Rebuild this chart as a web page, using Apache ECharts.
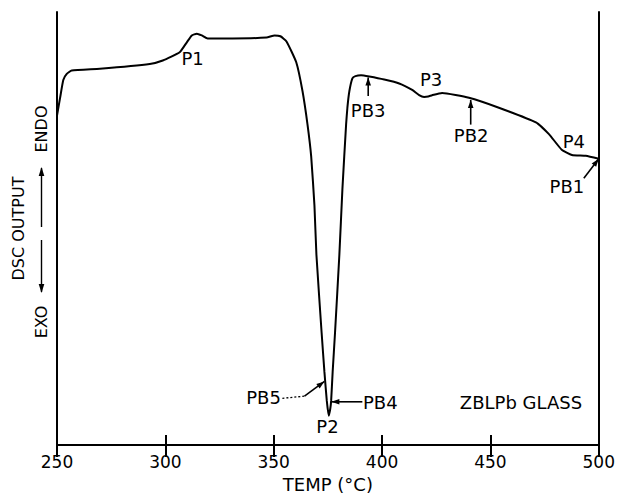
<!DOCTYPE html>
<html><head><meta charset="utf-8">
<script src="https://cdn.jsdelivr.net/npm/echarts/dist/echarts.min.js"></script>
<style>html,body{margin:0;padding:0;background:#fff}#c{width:618px;height:498px}</style>
</head><body><div id="c"></div>
<script>
// ---- data ----
const temps = [250, 251.4, 252.9, 254.5, 256.8, 269.8, 292.8, 298.8, 306.6, 309.9, 312.2, 314.5, 316.8, 319.5, 331.0, 346.7, 350.4, 353.1, 355.9, 360.4, 363.3, 365.6, 367.3, 368.8, 369.7, 372.1, 373.4, 374.5, 375.4, 376.1, 376.5, 377.2, 378.3, 380.3, 381.7, 383.4, 384.0, 384.9, 386.3, 387.7, 390.3, 394.1, 401.0, 407.9, 413.9, 417.1, 419.4, 421.3, 423.1, 427.7, 440.1, 453.9, 471.0, 477.0, 482.9, 487.6, 494.0, 500];
const dscOutput = [76.1, 80.1, 84.3, 85.7, 86.5, 86.9, 88.0, 88.8, 90.7, 93.0, 94.6, 95.0, 94.6, 93.9, 93.9, 94.1, 94.6, 94.4, 93.2, 88.4, 81.7, 74.0, 66.6, 55.3, 44.0, 26.0, 16.9, 10.2, 6.8, 8.4, 10.2, 16.9, 26.0, 44.0, 59.1, 74.0, 77.9, 81.7, 84.7, 85.2, 85.4, 85.1, 84.4, 83.5, 82.0, 80.8, 80.4, 80.5, 80.8, 81.3, 80.2, 77.9, 74.5, 71.8, 68.2, 67.0, 66.8, 66.1];
const xTickLabels = ['250', '300', '350', '400', '450', '500'];
const labelTexts = ['P1', 'P2', 'P3', 'P4', 'PB1', 'PB2', 'PB3', 'PB4', 'PB5', 'ZBLPb GLASS'];
const labelTemps = [312.6, 374.8, 422.6, 488.5, 485.3, 441.1, 393.6, 399.2, 345.3, 464.1];
const labelValues = [89.2, 4.2, 84.4, 70.2, 59.8, 71.6, 77.2, 9.9, 11.1, 9.9];
const xAxisTitle = 'TEMP (°C)';
const yAxisTitle = 'DSC OUTPUT';
const endoText = 'ENDO';
const exoText = 'EXO';

// annotation arrows (data coordinates)
const arrowDefs = [
  {from: [393.6, 80.6], to: [393.6, 84.9]},       // PB3
  {from: [440.9, 74.0], to: [440.9, 79.7]},       // PB2
  {from: [493.1, 61.6], to: [500.0, 66.1]},       // PB1
  {from: [390.9, 10.0], to: [376.6, 10.0]},       // PB4
  {from: [364.2, 11.3], to: [373.4, 14.7]}        // PB5
];
const dashDefs = [
  {from: [354.0, 10.8], to: [364.2, 11.3]}        // PB5 dotted lead
];

const FONT = 'DejaVu Sans';
const chart = echarts.init(document.getElementById('c'), null, {renderer: 'svg'});
const frame = {show: true, lineStyle: {color: '#000', width: 2}};
chart.setOption({
  animation: false,
  backgroundColor: '#fff',
  grid: {left: 57, right: 18, top: 12, bottom: 43},
  xAxis: [{
    type: 'value', min: 250, max: 500, interval: 50, position: 'bottom',
    axisLine: frame,
    axisTick: {show: true, inside: true, length: 10, lineStyle: {color: '#000', width: 2}},
    axisLabel: {color: '#000', fontFamily: FONT, fontSize: 17, margin: 8,
      formatter: (v) => xTickLabels[Math.round((v - 250) / 50)]},
    splitLine: {show: false},
    name: xAxisTitle, nameLocation: 'middle', nameGap: 25,
    nameTextStyle: {color: '#000', fontFamily: FONT, fontSize: 18}
  }, {
    type: 'value', min: 250, max: 500, interval: 50, position: 'top',
    axisLine: frame,
    axisTick: {show: true, inside: true, length: 12, lineStyle: {color: '#000', width: 2}},
    axisLabel: {show: false}, splitLine: {show: false}
  }],
  yAxis: [{
    type: 'value', min: 0, max: 100, position: 'left',
    axisLine: frame, axisTick: {show: false}, axisLabel: {show: false}, splitLine: {show: false}
  }, {
    type: 'value', min: 0, max: 100, position: 'right',
    axisLine: frame, axisTick: {show: false}, axisLabel: {show: false}, splitLine: {show: false}
  }],
  series: [{
    type: 'line',
    data: temps.map((t, i) => [t, dscOutput[i]]),
    showSymbol: false, symbol: 'none',
    smooth: 0.15,
    lineStyle: {color: '#000', width: 2}
  }]
});

function px(p) { return chart.convertToPixel({xAxisIndex: 0, yAxisIndex: 0}, p); }
function arrowHead(tip, tail, L, W) {
  const dx = tip[0] - tail[0], dy = tip[1] - tail[1];
  const len = Math.hypot(dx, dy) || 1;
  const ux = dx / len, uy = dy / len;
  const bx = tip[0] - ux * L, by = tip[1] - uy * L;
  return [tip, [bx - uy * W, by + ux * W], [bx + uy * W, by - ux * W]];
}
const g = [];
labelTexts.forEach((t, i) => {
  const p = px([labelTemps[i], labelValues[i]]);
  g.push({type: 'text', x: p[0], y: p[1], style: {text: t, fill: '#000', font: '18px "' + FONT + '"', align: 'center', verticalAlign: 'middle'}});
});
arrowDefs.forEach(a => {
  const f = px(a.from), t = px(a.to);
  g.push({type: 'line', shape: {x1: f[0], y1: f[1], x2: t[0], y2: t[1]}, style: {stroke: '#000', lineWidth: 1.6}});
  g.push({type: 'polygon', shape: {points: arrowHead(t, f, 8, 2.8)}, style: {fill: '#000'}});
});
dashDefs.forEach(a => {
  const f = px(a.from), t = px(a.to);
  g.push({type: 'line', shape: {x1: f[0], y1: f[1], x2: t[0], y2: t[1]}, style: {stroke: '#000', lineWidth: 1.3, lineDash: [2, 2]}});
});
// y-axis side titles
g.push({type: 'text', x: 18, y: 228.5, rotation: Math.PI / 2, style: {text: yAxisTitle, fill: '#000', font: '16px "' + FONT + '"', align: 'center', verticalAlign: 'middle'}});
g.push({type: 'text', x: 41.5, y: 129, rotation: Math.PI / 2, style: {text: endoText, fill: '#000', font: '16px "' + FONT + '"', align: 'center', verticalAlign: 'middle'}});
g.push({type: 'text', x: 41.5, y: 322, rotation: Math.PI / 2, style: {text: exoText, fill: '#000', font: '16px "' + FONT + '"', align: 'center', verticalAlign: 'middle'}});
g.push({type: 'line', shape: {x1: 41.5, y1: 227, x2: 41.5, y2: 168}, style: {stroke: '#000', lineWidth: 1.4}});
g.push({type: 'polygon', shape: {points: arrowHead([41.5, 167], [41.5, 227], 9, 2.8)}, style: {fill: '#000'}});
g.push({type: 'line', shape: {x1: 41.5, y1: 240, x2: 41.5, y2: 292}, style: {stroke: '#000', lineWidth: 1.4}});
g.push({type: 'polygon', shape: {points: arrowHead([41.5, 293], [41.5, 240], 9, 2.8)}, style: {fill: '#000'}});
chart.setOption({graphic: g});
</script>
</body></html>
